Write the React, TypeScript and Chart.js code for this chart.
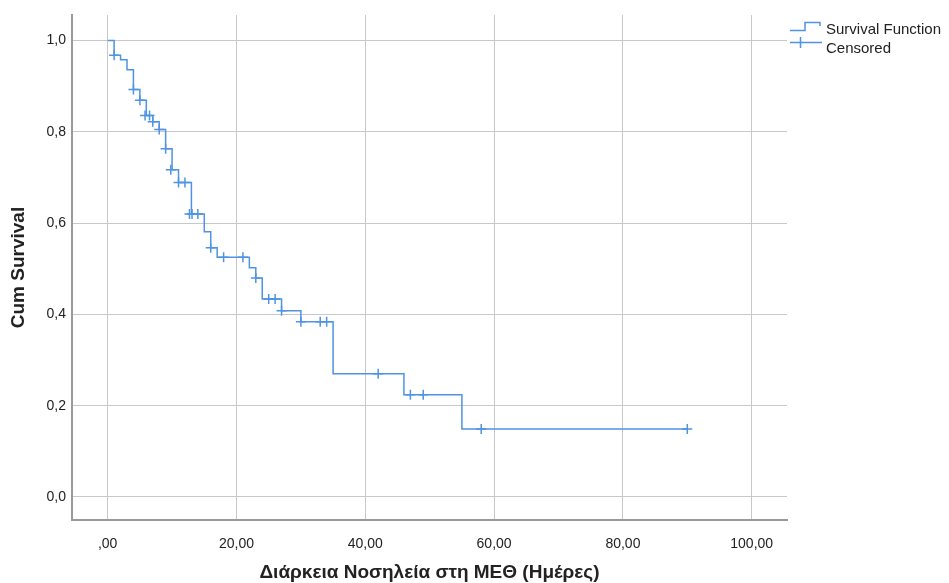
import React, { useEffect, useRef } from "react";
import { Chart, registerables } from "chart.js";

Chart.register(...registerables);

// Kaplan-Meier survival function (time in days, cumulative survival after each event)
const eventTimes = [0, 1, 2, 3, 4, 5, 6, 7, 8, 9, 10, 11, 13, 15, 16, 17, 22, 23, 24, 27, 30, 35, 46, 55, 90];
const survival = [1.0, 0.968, 0.958, 0.936, 0.893, 0.869, 0.836, 0.822, 0.805, 0.763, 0.717, 0.689, 0.62, 0.581, 0.546, 0.525, 0.502, 0.48, 0.434, 0.408, 0.384, 0.27, 0.224, 0.149, 0.149];

// Censored observations
const censorTimes = [1, 4, 5, 5.8, 6.5, 7, 8, 9, 9.8, 11, 12, 12.7, 13.1, 14, 16, 18, 21, 23, 25, 26, 27, 30, 33, 34, 42, 47, 49, 58, 90];
const censorSurvival = [0.968, 0.893, 0.869, 0.836, 0.836, 0.822, 0.805, 0.763, 0.717, 0.689, 0.689, 0.62, 0.62, 0.62, 0.546, 0.525, 0.525, 0.48, 0.434, 0.434, 0.408, 0.384, 0.384, 0.384, 0.27, 0.224, 0.224, 0.149, 0.149];

const xTicks = [0, 20, 40, 60, 80, 100];
const xTickLabels = [",00", "20,00", "40,00", "60,00", "80,00", "100,00"];
const yTicks = [0, 0.2, 0.4, 0.6, 0.8, 1.0];
const yTickLabels = ["0,0", "0,2", "0,4", "0,6", "0,8", "1,0"];

const xTitle = "Διάρκεια Νοσηλεία στη ΜΕΘ (Ημέρες)";
const yTitle = "Cum Survival";
const legendLabels = ["Survival Function", "Censored"];

const BLUE = "#4f93e3";
const FONT = "'Liberation Sans', Arial, sans-serif";
const TEXT = "#222222";

const legendPlugin = {
  id: "kmLegend",
  afterDraw(chart: any) {
    const ctx = chart.ctx;
    ctx.save();
    ctx.strokeStyle = BLUE;
    ctx.lineWidth = 1.5;
    // step icon
    ctx.beginPath();
    ctx.moveTo(790, 30.5);
    ctx.lineTo(805, 30.5);
    ctx.lineTo(805, 22.5);
    ctx.lineTo(820, 22.5);
    ctx.lineTo(820, 26);
    ctx.stroke();
    // censored icon
    ctx.beginPath();
    ctx.moveTo(790, 42.5);
    ctx.lineTo(822, 42.5);
    ctx.moveTo(800.5, 37);
    ctx.lineTo(800.5, 48);
    ctx.stroke();
    ctx.fillStyle = TEXT;
    ctx.font = `15px ${FONT}`;
    ctx.textAlign = "left";
    ctx.textBaseline = "alphabetic";
    ctx.fillText(legendLabels[0], 826, 34);
    ctx.fillText(legendLabels[1], 826, 52.5);
    ctx.restore();
  },
};

export default function App() {
  const ref = useRef<HTMLCanvasElement | null>(null);

  useEffect(() => {
    if (!ref.current) return;
    const chart = new Chart(ref.current, {
      type: "scatter",
      data: {
        datasets: [
          {
            label: legendLabels[0],
            data: eventTimes.map((t, i) => ({ x: t, y: survival[i] })),
            showLine: true,
            stepped: true,
            borderColor: BLUE,
            borderWidth: 1.5,
            pointRadius: 0,
            fill: false,
          } as any,
          {
            label: legendLabels[1],
            data: censorTimes.map((t, i) => ({ x: t, y: censorSurvival[i] })),
            showLine: false,
            pointStyle: "cross",
            pointRadius: 5,
            pointBorderWidth: 1.5,
            borderColor: BLUE,
            backgroundColor: BLUE,
          } as any,
        ],
      },
      options: {
        responsive: false,
        animation: false,
        layout: { padding: { left: 0, top: 15, right: 162, bottom: 0 } },
        plugins: { legend: { display: false }, tooltip: { enabled: false } },
        scales: {
          x: {
            type: "linear",
            min: -5.54,
            max: 105.48,
            afterBuildTicks: (s: any) => {
              s.ticks = xTicks.map((v) => ({ value: v }));
            },
            afterFit: (s: any) => {
              s.height = 63;
            },
            ticks: {
              autoSkip: false,
              maxRotation: 0,
              padding: 16,
              color: TEXT,
              font: { family: FONT, size: 14 },
              callback: (v: any) => {
                const i = xTicks.indexOf(Number(v));
                return i >= 0 ? xTickLabels[i] : "";
              },
            },
            grid: { color: "#c8c8c8", lineWidth: 1, drawTicks: false },
            border: { display: true, color: "#9a9a9a", width: 2 },
            title: {
              display: true,
              text: xTitle,
              color: TEXT,
              font: { family: FONT, size: 19, weight: "bold" },
              padding: { top: 0, bottom: -1 },
            },
          },
          y: {
            type: "linear",
            min: -0.0504,
            max: 1.056,
            afterBuildTicks: (s: any) => {
              s.ticks = yTicks.map((v) => ({ value: v }));
            },
            afterFit: (s: any) => {
              s.width = 72;
            },
            ticks: {
              autoSkip: false,
              padding: 6,
              color: TEXT,
              font: { family: FONT, size: 14 },
              callback: (v: any) => {
                const i = yTicks.findIndex((t) => Math.abs(t - Number(v)) < 1e-6);
                return i >= 0 ? yTickLabels[i] : "";
              },
            },
            grid: { color: "#c8c8c8", lineWidth: 1, drawTicks: false },
            border: { display: true, color: "#9a9a9a", width: 2 },
            title: {
              display: true,
              text: yTitle,
              color: TEXT,
              font: { family: FONT, size: 19, weight: "bold" },
              padding: { top: 7, bottom: 0 },
            },
          },
        },
      },
      plugins: [legendPlugin],
    });
    return () => chart.destroy();
  }, []);

  return (
    <div style={{ position: "absolute", left: 0, top: 0, width: 949, height: 583, background: "#ffffff" }}>
      <canvas ref={ref} width={949} height={583} style={{ display: "block" }} />
    </div>
  );
}
